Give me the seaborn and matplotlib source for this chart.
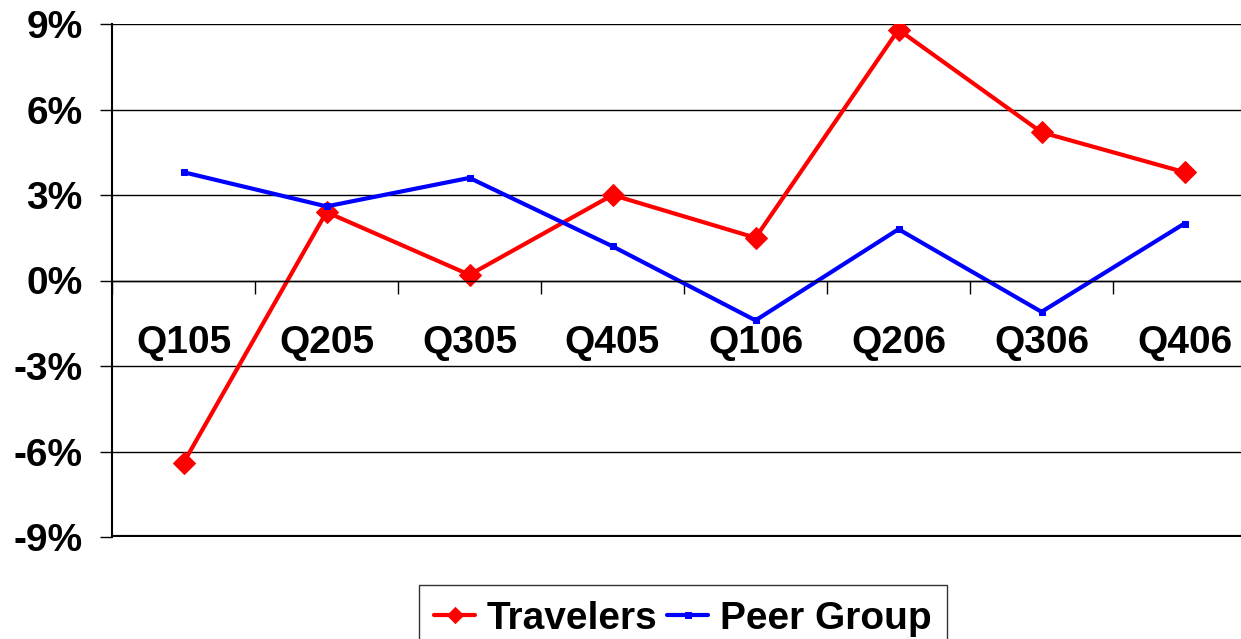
import matplotlib
matplotlib.use("Agg")
import matplotlib.pyplot as plt
import seaborn as sns
import numpy as np

quarters = ["Q105", "Q205", "Q305", "Q405", "Q106", "Q206", "Q306", "Q406"]
travelers = [-6.4, 2.4, 0.2, 3.0, 1.5, 8.8, 5.2, 3.8]
peer_group = [3.8, 2.6, 3.6, 1.2, -1.4, 1.8, -1.1, 2.0]
y_ticks = [-9, -6, -3, 0, 3, 6, 9]

sns.set_style("white")
plt.rcParams["font.family"] = ["Liberation Sans", "DejaVu Sans"]
plt.rcParams["font.weight"] = "bold"
plt.rcParams["text.color"] = "black"
plt.rcParams["xtick.color"] = "black"
plt.rcParams["ytick.color"] = "black"

W, H = 1241, 639
fig = plt.figure(figsize=(W / 100, H / 100), dpi=100)
ax = fig.add_axes([112 / W, (H - 537) / H, (1256 - 112) / W, (537 - 24) / H])

pos = np.arange(len(quarters))
sns.lineplot(x=pos, y=travelers, ax=ax, color="#FF0000", linewidth=3,
             marker="D", markersize=11, markeredgecolor="#FF0000",
             label="Travelers")
sns.lineplot(x=pos, y=peer_group, ax=ax, color="#0000FF", linewidth=3,
             marker="s", markersize=5, markeredgecolor="#0000FF",
             label="Peer Group")

ax.set_xlim(-0.5, len(quarters) - 0.5)
ax.set_ylim(min(y_ticks), max(y_ticks))
ax.set_yticks(y_ticks)
ax.set_yticklabels([f"{v}%" for v in y_ticks])
ax.yaxis.grid(True, color="black", linewidth=1)
ax.set_axisbelow(True)
ax.axhline(min(y_ticks), color="black", linewidth=3, zorder=1)

ax.set_xticks(pos)
ax.set_xticklabels(quarters)
ax.set_xticks(np.arange(-0.5, len(quarters), 1), minor=True)
ax.tick_params(axis="x", which="major", length=0, pad=32, labelsize=28,
               labelcolor="black")
ax.tick_params(axis="x", which="minor", length=9, width=1, color="black",
               direction="out", bottom=True)
ax.tick_params(axis="y", length=9, width=1, color="black", direction="out",
               left=True, pad=12, labelsize=28, labelcolor="black")
for lbl in ax.get_xticklabels() + ax.get_yticklabels():
    lbl.set_fontweight("bold")

for side in ["top", "right"]:
    ax.spines[side].set_visible(False)
ax.spines["bottom"].set_position(("data", 0))
ax.spines["bottom"].set_color("black")
ax.spines["bottom"].set_linewidth(1)
ax.spines["left"].set_color("black")
ax.spines["left"].set_linewidth(1.5)
ax.set_xlabel("")
ax.set_ylabel("")

handles, labels = ax.get_legend_handles_labels()
ax.get_legend().remove()
leg = fig.legend(handles, labels, loc="upper center", ncol=2,
                 bbox_to_anchor=(683 / W, 1 - 585 / H),
                 prop={"size": 28, "weight": "bold"}, frameon=True,
                 fancybox=False, edgecolor="black", handlelength=1.05,
                 handletextpad=0.3, columnspacing=0.25, borderpad=0.4,
                 borderaxespad=0, markerscale=0.75)
leg.get_frame().set_linewidth(1)
for t in leg.get_texts():
    t.set_color("black")

fig.savefig("out.png", dpi=100)
